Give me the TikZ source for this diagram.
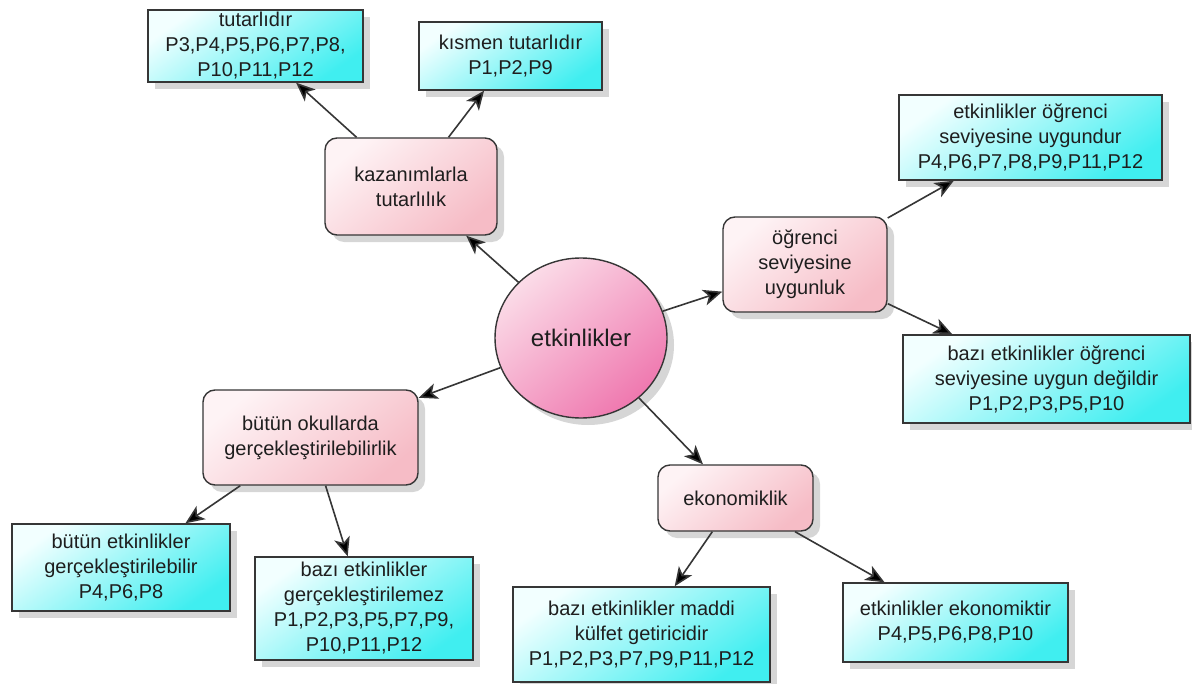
\documentclass[tikz,border=0pt]{standalone}
\usepackage{fontspec}
\setmainfont{Liberation Sans}
\usepackage{xcolor}
\definecolor{inkdark}{HTML}{1E1E1E}
\definecolor{edgegray}{HTML}{363636}
\definecolor{leaflite}{HTML}{F2FFFF}
\definecolor{leafdeep}{HTML}{40EEF0}
\definecolor{topiclite}{HTML}{FEF3F5}
\definecolor{topicdeep}{HTML}{F6BCC6}
\definecolor{hublite}{HTML}{FBDCE8}
\definecolor{hubdeep}{HTML}{EF78AF}
\usepackage{tikz}
\usetikzlibrary{shapes.geometric, arrows.meta, shadows, positioning}

\begin{document}
\begin{tikzpicture}[x=0.5pt, y=-0.5pt,
  every node/.style={font=\fontsize{10}{12.5}\selectfont, text=inkdark, align=center},
  boxshadow/.style={drop shadow={shadow xshift=3.5pt, shadow yshift=-3.5pt,
                    opacity=0.16, fill=black}},
  hub/.style={ellipse, draw=edgegray, line width=0.7pt, boxshadow,
              top color=hublite, bottom color=hubdeep, shading angle=40,
              minimum width=86pt, minimum height=80pt, inner sep=0pt,
              font=\fontsize{12}{14}\selectfont},
  topic/.style={rectangle, rounded corners=6pt, draw=edgegray, line width=0.7pt, boxshadow,
                top color=topiclite, bottom color=topicdeep, shading angle=40,
                inner sep=1pt},
  leaf/.style={rectangle, draw=edgegray, line width=0.7pt, boxshadow,
               top color=leaflite, bottom color=leafdeep, shading angle=35,
               inner sep=0.5pt},
  link/.style={draw=edgegray, line width=0.8pt,
               -{Stealth[length=9.5pt, width=8pt, inset=2.5pt, fill=black]}}]

  \path[use as bounding box, fill=white] (0,0) rectangle (1192,684);

  % centre
  \node[hub] (etk) at (581,338) {etkinlikler};

  % first level
  \node[topic, minimum width=86pt, minimum height=48.5pt] (kaz) at (411,186.5)
    {kazanımlarla\\tutarlılık};
  \node[topic, minimum width=82pt, minimum height=47.5pt] (ogr) at (805,264.5)
    {öğrenci\\seviyesine\\uygunluk};
  \node[topic, minimum width=107.5pt, minimum height=47.5pt] (but) at (310.5,437.5)
    {bütün okullarda\\gerçekleştirilebilirlik};
  \node[topic, minimum width=77.5pt, minimum height=33pt] (eko) at (735.5,498)
    {ekonomiklik};

  % kazanimlarla tutarlilik
  \node[leaf, minimum width=107.5pt, minimum height=36pt] (tut) at (255.5,46)
    {tutarlıdır\\P3,P4,P5,P6,P7,P8,\\P10,P11,P12};
  \node[leaf, minimum width=91.5pt, minimum height=34pt] (kis) at (510.5,56)
    {kısmen tutarlıdır\\P1,P2,P9};

  % ogrenci seviyesine uygunluk
  \node[leaf, minimum width=131.5pt, minimum height=42.5pt] (uyg) at (1030.5,137.5)
    {etkinlikler öğrenci\\seviyesine uygundur\\P4,P6,P7,P8,P9,P11,P12};
  \node[leaf, minimum width=143.5pt, minimum height=44pt] (deg) at (1046.5,379)
    {bazı etkinlikler öğrenci\\seviyesine uygun değildir\\P1,P2,P3,P5,P10};

  % butun okullarda gerceklestirilebilirlik
  \node[leaf, minimum width=109pt, minimum height=43.5pt] (bute) at (121,567.5)
    {bütün etkinlikler\\gerçekleştirilebilir\\P4,P6,P8};
  \node[leaf, minimum width=109pt, minimum height=51.5pt] (bazg) at (364,608.5)
    {bazı etkinlikler\\gerçekleştirilemez\\P1,P2,P3,P5,P7,P9,\\P10,P11,P12};

  % ekonomiklik
  \node[leaf, minimum width=128.5pt, minimum height=47.5pt] (mad) at (641.5,634.5)
    {bazı etkinlikler maddi\\külfet getiricidir\\P1,P2,P3,P7,P9,P11,P12};
  \node[leaf, minimum width=112.5pt, minimum height=39.5pt] (ekt) at (955.5,622.5)
    {etkinlikler ekonomiktir\\P4,P5,P6,P8,P10};

  \draw[link] (etk) -- (kaz);
  \draw[link] (etk) -- (ogr);
  \draw[link] (etk) -- (but);
  \draw[link] (etk) -- (eko);
  \draw[link] (kaz) -- (tut);
  \draw[link] (kaz) -- (kis);
  \draw[link] (ogr) -- (uyg);
  \draw[link] (ogr) -- (deg);
  \draw[link] (but) -- (bute);
  \draw[link] (but) -- (bazg);
  \draw[link] (eko) -- (mad);
  \draw[link] (eko) -- (ekt);
\end{tikzpicture}
\end{document}
